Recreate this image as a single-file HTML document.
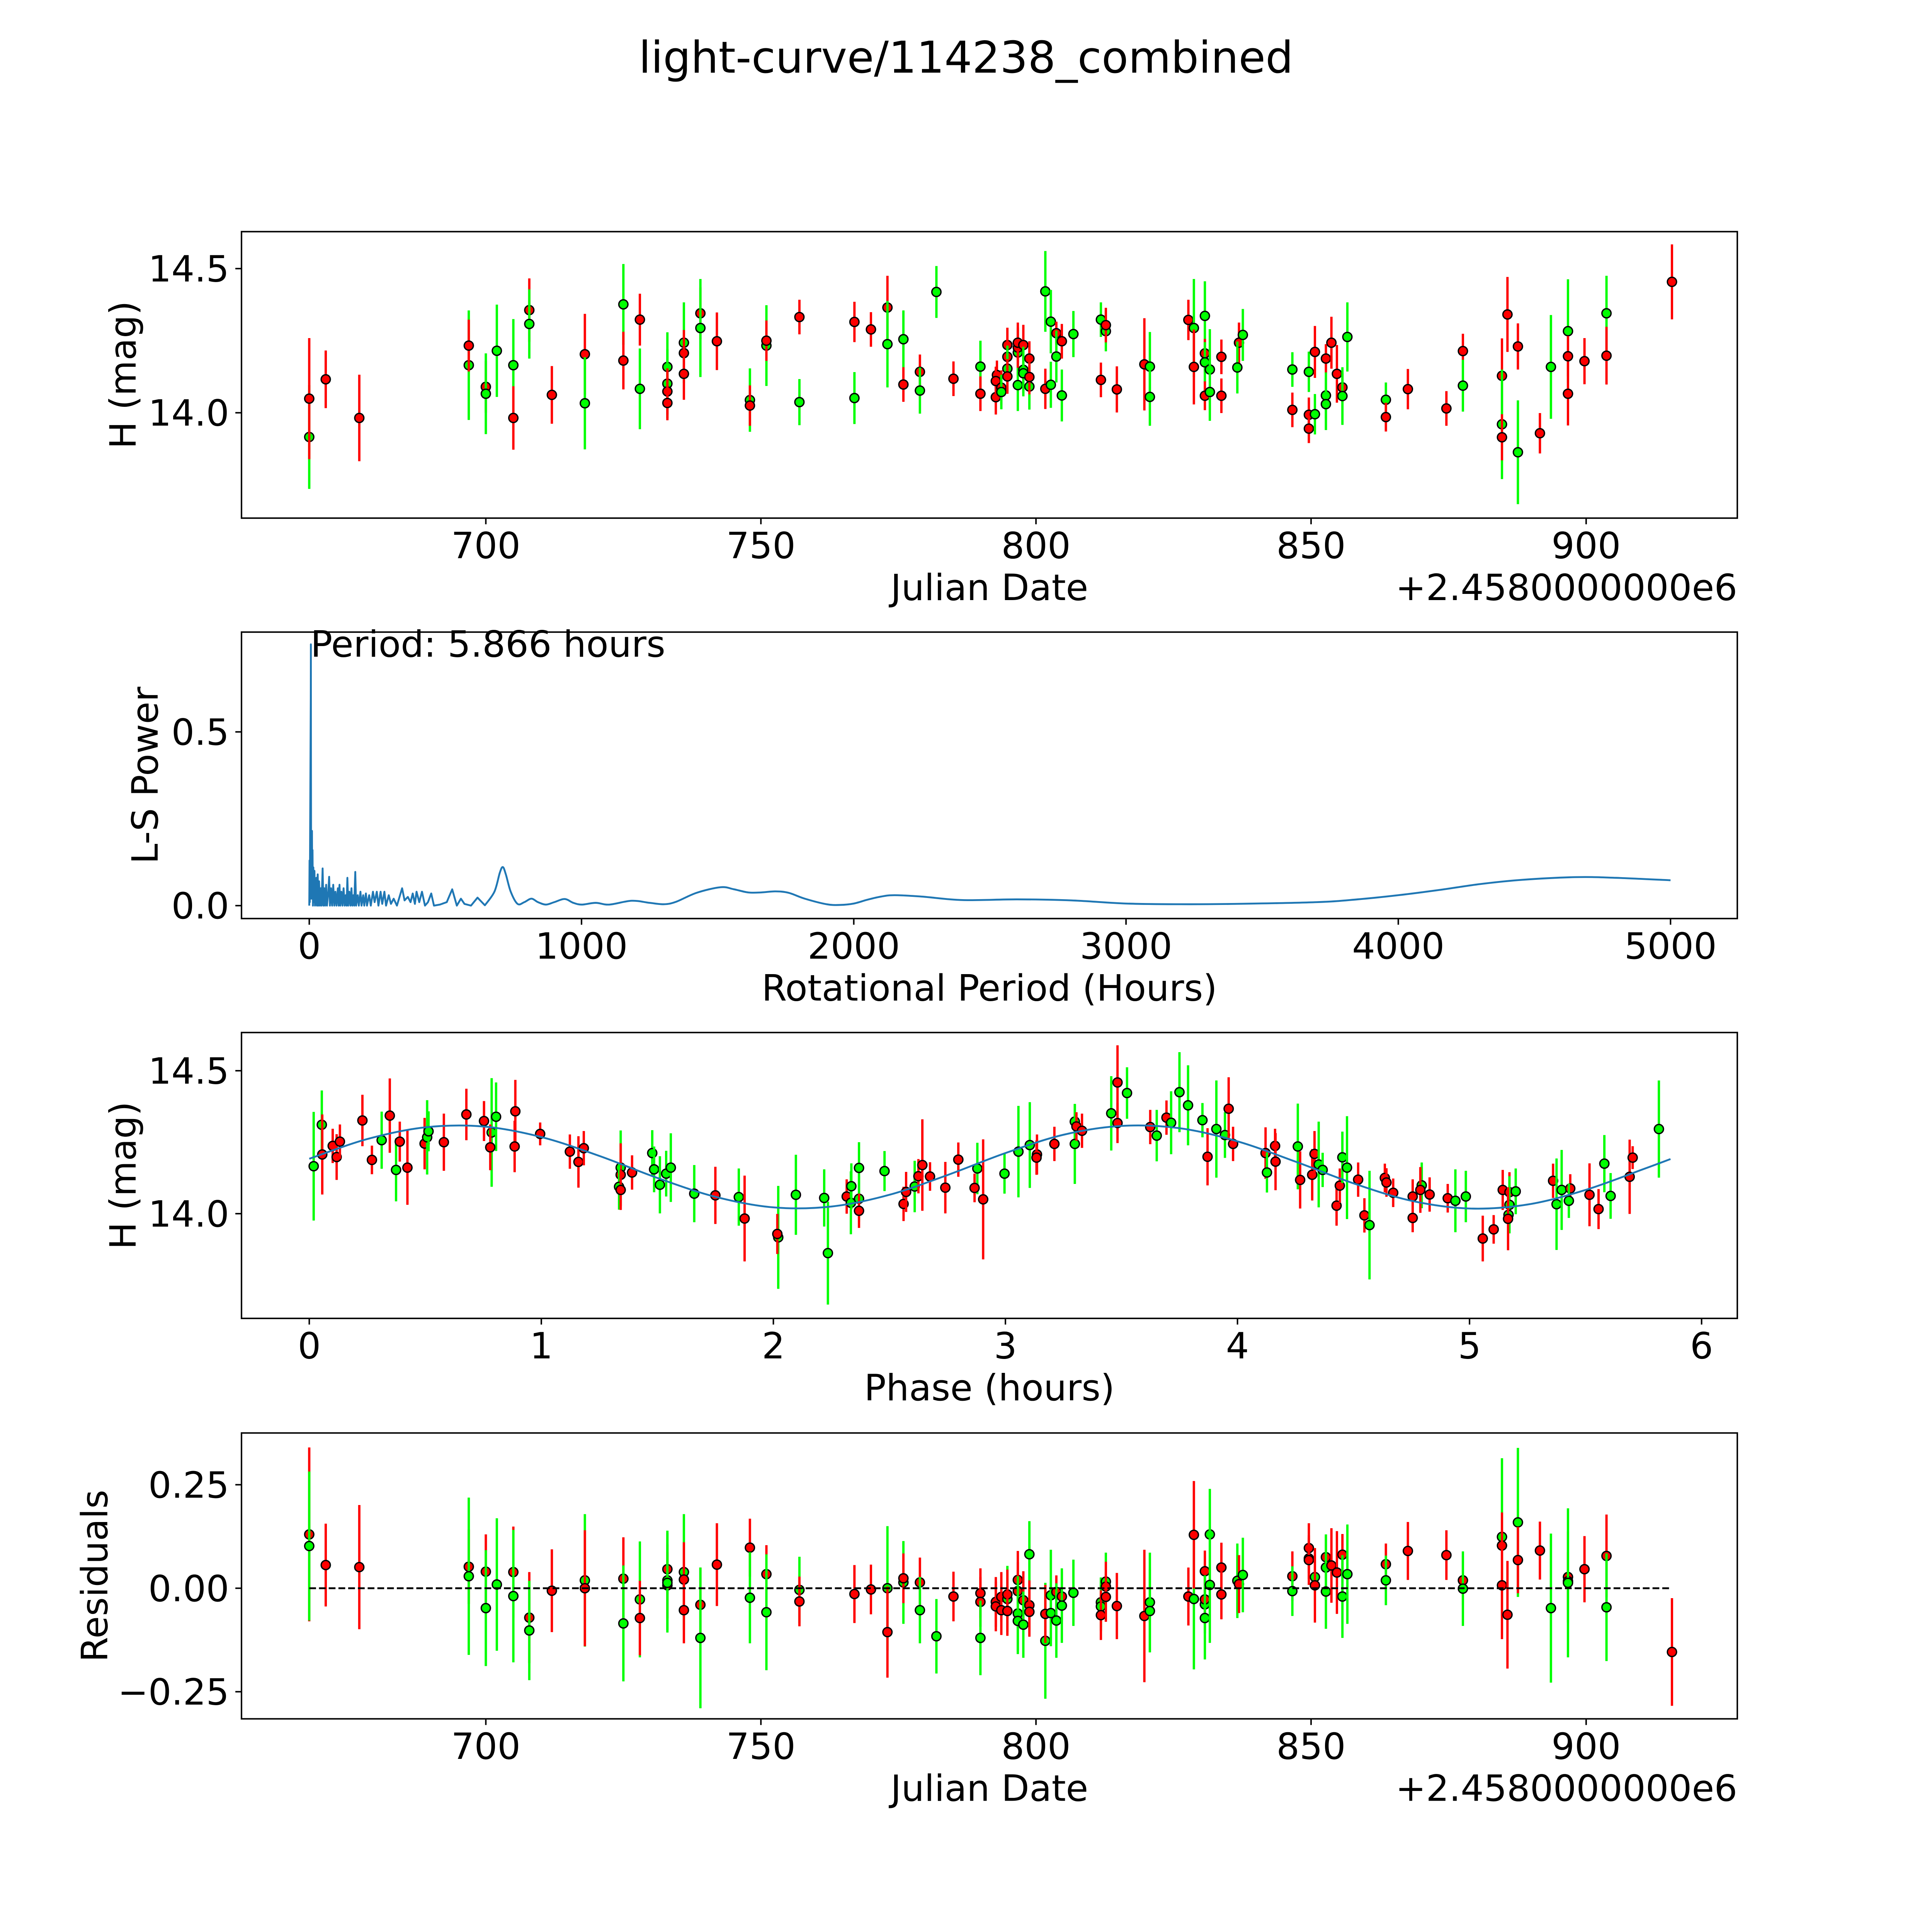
<!DOCTYPE html>
<html><head><meta charset="utf-8"><title>light-curve/114238_combined</title>
<style>html,body{margin:0;padding:0;background:#fff;overflow:hidden;width:100vw;height:100vh}svg{display:block;width:100vw;height:100vh}text{font-family:"DejaVu Sans","Liberation Sans",sans-serif;fill:#000}</style>
</head><body>
<svg id="fig" xmlns="http://www.w3.org/2000/svg" viewBox="0 0 1568 1568" preserveAspectRatio="xMidYMid meet">
<rect x="0" y="0" width="1568" height="1568" fill="#fff"/>
<text x="784" y="59" font-size="35.5" text-anchor="middle">light-curve/114238_combined</text>
<g id="g1"></g>
<g id="g2"></g>
<g id="g3"></g>
<g id="g4"></g>
</svg>
<script>
// ---------- Panel 1 data: raw light curve ----------
const p1Days = [667.9,667.9,670.9,677.0,696.9,696.9,700.0,700.0,702.0,705.0,705.0,707.9,707.9,712.0,718.0,718.0,725.0,725.0,728.0,728.0,733.0,733.0,733.0,733.0,736.0,736.0,736.0,739.0,739.0,742.0,748.0,748.0,751.0,751.0,757.0,757.0,767.0,767.0,770.0,773.0,773.0,775.9,775.9,778.9,778.9,781.9,785.0,789.9,789.9,
792.7,792.9,792.7,793.7,793.7,794.8,794.8,794.8,794.8,796.7,796.7,796.7,796.7,797.7,797.7,797.7,798.8,798.8,798.8,801.7,801.7,802.7,802.7,803.7,803.7,804.7,804.7,806.8,811.8,811.8,812.7,812.7,814.7,819.7,820.7,820.7,827.7,828.7,828.7,830.7,830.7,830.7,830.7,831.6,831.6,833.7,833.7,836.9,837.6,836.6,846.6,846.6,849.6,849.6,849.6,850.7,850.7,852.7,852.7,852.7,853.7,854.7,855.7,855.7,856.6,863.6,863.6,867.6,874.6,877.6,877.6,884.7,884.7,884.7,885.7,887.6,887.6,891.6,893.6,896.7,896.7,896.7,899.7,903.7,903.7,915.6];
const p1Mags = [13.916,14.049,14.116,13.982,14.165,14.233,14.090,14.066,14.215,14.165,13.982,14.356,14.308,14.062,14.203,14.033,14.376,14.181,14.323,14.083,14.159,14.101,14.074,14.034,14.243,14.207,14.135,14.345,14.294,14.248,14.044,14.025,14.233,14.250,14.332,14.037,14.315,14.051,14.289,14.365,14.238,14.255,14.098,14.142,14.077,14.419,14.118,14.160,14.066,
14.054,14.131,14.110,14.087,14.072,14.235,14.194,14.153,14.126,14.096,14.209,14.226,14.243,14.235,14.149,14.137,14.188,14.091,14.124,14.421,14.083,14.316,14.097,14.276,14.195,14.248,14.060,14.273,14.323,14.114,14.283,14.304,14.081,14.168,14.160,14.055,14.322,14.294,14.159,14.336,14.206,14.175,14.059,14.150,14.072,14.194,14.059,14.243,14.270,14.157,14.150,14.010,14.142,13.993,13.945,13.995,14.211,14.188,14.060,14.030,14.243,14.135,14.088,14.058,14.263,14.045,13.985,14.082,14.015,14.214,14.094,14.128,13.960,13.915,14.341,14.230,13.863,13.929,14.159,14.283,14.196,14.066,14.179,14.345,14.198,14.454];
const p1Errs = [.18,.21,.10,.15,.19,.09,.09,.14,.16,.16,.11,.11,.12,.10,.14,.16,.14,.10,.09,.14,.12,.12,.08,.06,.14,.08,.09,.09,.17,.10,.11,.07,.14,.07,.06,.08,.07,.09,.06,.11,.15,.10,.06,.06,.08,.09,.06,.09,.06,
.06,.05,.05,.06,.06,.06,.06,.08,.06,.09,.08,.07,.07,.07,.08,.08,.06,.08,.06,.14,.07,.11,.08,.04,.09,.06,.09,.08,.06,.06,.07,.06,.08,.16,.12,.10,.07,.17,.13,.12,.05,.07,.05,.14,.10,.06,.06,.07,.09,.09,.06,.06,.07,.06,.05,.07,.09,.05,.08,.09,.09,.10,.05,.10,.12,.06,.05,.07,.06,.06,.09,.13,.19,.08,.13,.08,.18,.07,.18,.18,.07,.11,.08,.13,.10,.13];
const p1Colors = "GRRRGRRGGGRRGRRGGRRGGGRRGRRRGRGRGRRGRGRRGGRRGGRGR" + "RRRRGRRGRGGRRRGGRGRGRGGRGRGGGRGRRRGGRGRGRGRGGRRRGGGRGRRGRRGGRRRGGGRRRRGRGRRRGRGGRRRGRR";

// ---------- Panel 2 data: Lomb-Scargle periodogram ----------
const lsPeriods = [0,1,2,4,5.5,5.866,6.2,7,8.5,10,11,12,13.5,15,17,19,21,23,26,28,31,33,36,39,42,45,49,52,55,58,62,65,70,73,76,80,84,88,92,96,100,105,108,111,114,118,122,126,130,134,137,140,143,147,151,155,158,162,165,169,172,178,182,188,192,198,202,208,212,220,226,234,240,248,254,262,268,276,282,292,300,310,322,341,350,362,372,380,388,394,404,414,425,436,448,458,480,505,525,542,557,570,594,618,645,680,700,711,722,740,765,790,816,840,869,900,938,970,1001,1052,1102,1184,1250,1303,1347,1423,1511,1560,1612,1660,1712,1760,1820,1900,1950,2000,2050,2100,2150,2250,2400,2600,2800,3000,3200,3400,3700,3850,4000,4150,4300,4450,4650,4800,5000];
const lsPower = [0,.13,.01,.35,.6,.752,.45,.02,.13,.215,.02,.16,0,.11,.01,.1,0,.06,.08,0,.09,0,.07,0,.05,0,.107,0,.05,0,.06,0,.04,.083,0,.05,0,.06,0,.04,0,.05,0,.06,0,.04,0,.05,0,.03,0,.08,0,.04,0,.05,0,.03,0,.097,0,.03,0,.04,0,.03,0,.035,0,.03,0,.04,.01,.04,0,.04,.005,.04,0,.03,.005,.02,0,.05,.015,.025,.01,.035,.005,.04,.01,.04,0,.01,.035,0,.003,.01,.047,0,.02,.005,0,.023,.001,.04,.095,.111,.09,.04,.005,.01,.02,.01,.003,.01,.019,.008,.003,.008,.003,.014,.008,.004,.011,.037,.053,.047,.038,.038,.041,.037,.02,.004,.002,.006,.017,.026,.03,.026,.016,.018,.015,.006,.004,.005,.01,.018,.03,.045,.062,.074,.082,.08,.073];
const bestPeriod = 5.866;

// ---------- Panel 3 data: phased light curve ----------
const p3Phase = [.019,.054,.056,.101,.118,.132,.229,.270,.312,.347,.374,.390,.423,.497,.508,.514,.580,.677,.753,.786,.805,.780,.888,.885,.995,1.123,1.160,1.183,1.342,1.342,1.335,1.342,1.391,1.478,1.486,1.511,1.538,1.558,1.659,1.750,1.851,1.876,2.021,2.017,2.097,2.219,2.235,2.316,2.334,2.336,2.369,2.369,2.369,2.479,2.561,2.572,2.609,2.625,2.642,2.675,2.741,2.797,2.879,2.867,2.904,
2.996,3.056,3.105,3.136,3.134,3.211,3.299,3.299,3.306,3.330,3.456,3.483,3.483,3.524,3.624,3.652,3.694,3.714,3.750,3.787,3.871,3.849,3.909,3.946,3.962,3.981,4.121,4.127,4.162,4.164,4.260,4.270,4.322,4.332,4.350,4.367,4.427,4.441,4.452,4.472,4.520,4.547,4.569,4.635,4.642,4.671,4.755,4.755,4.794,4.788,4.828,4.906,4.939,4.984,5.057,5.104,5.143,5.172,5.199,5.172,5.168,5.166,5.360,5.375,5.397,5.434,5.428,5.517,5.556,5.581,5.608,5.690,5.703,5.816];
const p3Mags = [14.166,14.311,14.207,14.237,14.198,14.252,14.326,14.188,14.257,14.343,14.153,14.252,14.161,14.245,14.267,14.288,14.250,14.347,14.324,14.284,14.339,14.232,14.358,14.235,14.279,14.217,14.181,14.229,14.161,14.136,14.094,14.083,14.144,14.212,14.155,14.101,14.140,14.161,14.070,14.064,14.058,13.983,13.917,13.929,14.066,14.055,13.862,14.060,14.038,14.096,14.160,14.052,14.010,14.149,14.034,14.076,14.095,14.131,14.170,14.130,14.091,14.189,14.158,14.090,14.050,
14.140,14.217,14.240,14.207,14.196,14.244,14.322,14.244,14.305,14.290,14.351,14.459,14.317,14.422,14.303,14.273,14.336,14.318,14.425,14.379,14.199,14.327,14.296,14.275,14.367,14.244,14.212,14.144,14.237,14.182,14.235,14.118,14.136,14.209,14.172,14.153,14.028,14.098,14.197,14.161,14.119,13.994,13.960,14.125,14.109,14.073,14.060,13.985,14.099,14.083,14.067,14.054,14.045,14.060,13.913,13.945,14.083,14.075,14.078,14.031,13.996,13.982,14.115,14.033,14.083,14.088,14.045,14.066,14.016,14.175,14.062,14.129,14.196,14.296];
const p3Errs = [.19,.12,.14,.06,.08,.06,.09,.05,.10,.13,.11,.07,.13,.09,.13,.07,.10,.09,.07,.19,.12,.08,.11,.09,.04,.06,.09,.06,.13,.11,.08,.07,.06,.08,.08,.10,.08,.12,.10,.10,.10,.15,.18,.07,.14,.10,.18,.06,.11,.08,.09,.08,.06,.07,.06,.07,.09,.06,.16,.05,.09,.06,.09,.05,.21,
.07,.16,.15,.07,.06,.06,.06,.14,.05,.06,.13,.13,.07,.09,.06,.09,.06,.11,.14,.14,.10,.06,.17,.08,.11,.06,.09,.07,.06,.10,.15,.10,.09,.08,.15,.06,.07,.06,.09,.18,.06,.06,.19,.05,.05,.05,.06,.05,.08,.08,.06,.05,.11,.09,.08,.05,.07,.07,.08,.10,.06,.11,.06,.16,.14,.05,.06,.11,.07,.10,.08,.13,.04,.17];
const p3Colors = "GGRRRRRRGRGRRRGGRRRGGRRRRRRRGRGRRGGGGGGRGRGRGGGRGGGGRGRRGRRRRRGRR" + "GGGRRRGGRRGRRGRGRGGGRGGGRRRGRRGRRRGGRRGGRRGRRRRRGRRRGGRRRRGGGRRGGRGRRGGRRG";
const fitPhase = [0,0.25,0.5,0.75,1,1.25,1.5,1.75,2,2.25,2.5,2.75,3,3.25,3.5,3.75,4,4.25,4.5,4.75,5,5.25,5.5,5.75,5.866];
const fitMag = [14.192,14.261,14.302,14.305,14.268,14.202,14.125,14.059,14.022,14.025,14.066,14.135,14.212,14.276,14.307,14.299,14.253,14.182,14.106,14.045,14.018,14.032,14.083,14.156,14.191];

// ---------- Panel 4 data: residuals ----------
const p4Days = [667.9,667.9,670.9,677.0,696.9,696.9,700.0,700.0,702.0,705.0,705.0,707.9,707.9,712.0,718.0,718.0,725.0,725.0,728.0,728.0,733.0,733.0,733.0,733.0,736.0,736.0,736.0,739.0,739.0,742.0,748.0,748.0,751.0,751.0,757.0,757.0,767.0,770.0,773.0,773.0,775.9,775.9,778.9,778.9,781.9,785.0,789.9,789.9,789.9,
792.7,792.7,793.7,793.7,794.8,794.8,794.8,796.7,796.7,796.7,796.7,797.7,797.7,798.8,798.8,798.8,801.7,801.7,802.7,802.7,803.7,803.7,804.7,804.7,806.8,811.8,811.8,811.8,812.7,812.7,812.7,814.7,819.7,820.7,820.7,827.7,828.7,828.7,831.6,830.7,830.7,830.7,830.7,831.6,833.7,833.7,836.6,836.9,837.6,846.6,846.6,849.6,849.6,849.6,850.7,850.7,852.7,852.7,852.7,853.7,854.7,855.7,855.7,856.6,863.6,863.6,867.6,874.6,877.6,877.6,884.7,884.7,884.7,885.7,887.6,887.6,891.6,893.6,896.7,896.7,896.7,899.7,903.7,903.7,915.6];
const p4Res = [.130,.102,.056,.051,.052,.029,.040,-.048,.009,.039,-.019,-.071,-.102,-.006,.019,.000,.023,-.085,-.027,-.072,.046,.019,.007,.013,.039,.021,-.053,-.040,-.120,.057,.098,-.023,.034,-.058,-.004,-.032,-.014,-.003,.000,-.106,.014,.024,.014,-.053,-.116,-.020,-.012,-.033,-.120,
-.033,-.044,-.021,-.053,-.026,-.015,-.055,.020,-.007,-.061,-.079,-.029,-.088,.082,-.041,-.057,-.127,-.062,-.017,-.060,-.009,-.078,-.020,-.042,-.011,-.034,-.044,-.065,.016,.004,-.021,-.043,-.067,-.034,-.055,-.020,-.026,.129,.130,.041,-.039,-.027,-.072,.008,.050,-.015,.018,.010,.032,.029,-.007,.097,.072,.068,.027,.007,.075,.050,-.008,.055,.038,.081,-.020,.034,.058,.019,.090,.080,.019,-.001,.124,.103,.007,-.064,.159,.068,.091,-.048,.027,.017,.013,.046,.078,-.046,-.154];
const p4Errs = [.21,.18,.10,.15,.09,.19,.09,.14,.16,.11,.16,.11,.12,.10,.16,.14,.10,.14,.14,.09,.06,.12,.08,.12,.14,.09,.08,.09,.17,.10,.07,.11,.07,.14,.08,.06,.07,.06,.15,.11,.10,.06,.06,.08,.09,.06,.06,.06,.09,
.06,.06,.06,.06,.08,.06,.06,.07,.07,.09,.08,.07,.08,.08,.06,.06,.14,.07,.11,.08,.04,.09,.06,.09,.08,.06,.06,.06,.07,.06,.06,.08,.16,.12,.10,.07,.17,.13,.11,.05,.07,.05,.10,.14,.06,.06,.09,.07,.09,.06,.06,.06,.05,.06,.07,.09,.05,.08,.09,.09,.10,.05,.10,.12,.05,.06,.07,.06,.06,.09,.19,.08,.13,.13,.18,.08,.07,.18,.11,.07,.18,.08,.10,.13,.13];
const p4Colors = "RGRRRGRGGRGRGRGRRGGRRGRGGRRRGRRGRGGRRRGRGRRGGRRRG" + "RRRRGRRRRGGRGGRRGRGGRGRGGGGRGRRRRGGRGRGRGRGGRRGRGRGRRRGRRGGRRRGGRGRRRGGRRRGRRGRRGRRGR";

// ---------- Tick labels ----------
const jdTicks = [700,750,800,850,900];
const magTicks = [14.0,14.5];
const magTickLabels = ["14.0","14.5"];
const lsXTicks = [0,1000,2000,3000,4000,5000];
const lsYTicks = [0.0,0.5];
const lsYTickLabels = ["0.0","0.5"];
const phaseTicks = [0,1,2,3,4,5,6];
const resTicks = [-0.25,0,0.25];
const resTickLabels = ["\u22120.25","0.00","0.25"];

const NS = "http://www.w3.org/2000/svg";
const COL = {R:"#ff0000", G:"#00ff00"};
const FS = 29.5;
function mk(parent, tag, attrs, text){
  const e = document.createElementNS(NS, tag);
  for (const k in attrs) e.setAttribute(k, attrs[k]);
  if (text !== undefined) e.textContent = text;
  parent.appendChild(e);
  return e;
}
function linear(d0,d1,r0,r1){ return v => r0 + (v-d0)*(r1-r0)/(d1-d0); }

const L = 196, R = 1410;
const P1 = {t:188, b:420.5}, P2 = {t:513, b:745.5}, P3 = {t:838, b:1070}, P4 = {t:1163, b:1395};

function frame(g, P, name){
  const r = mk(g, "rect", {x:L, y:P.t, width:R-L, height:P.b-P.t, fill:"none", stroke:"#000", "stroke-width":1.2});
  
  
}
function xTicks(g, P, ticks, sx, labels, name){
  ticks.forEach((t,i)=>{
    const x = sx(t);
    const ln = mk(g, "line", {x1:x, x2:x, y1:P.b, y2:P.b+5, stroke:"#000", "stroke-width":1.2});
    
    
    const tx = mk(g, "text", {x:x, y:P.b+32.5, "font-size":FS, "text-anchor":"middle"}, labels ? labels[i] : String(t));
    
    
  });
}
function yTicks(g, P, ticks, sy, labels, name){
  ticks.forEach((t,i)=>{
    const y = sy(t);
    const ln = mk(g, "line", {x1:L-5, x2:L, y1:y, y2:y, stroke:"#000", "stroke-width":1.2});
    
    
    const tx = mk(g, "text", {x:L-10, y:y+10.5, "font-size":FS, "text-anchor":"end"}, labels[i]);
    
    
  });
}
function xLabel(g, P, text, name){
  const t = mk(g, "text", {x:(L+R)/2, y:P.b+66.5, "font-size":FS, "text-anchor":"middle"}, text);
  
  
}
function yLabel(g, P, text, x, name){
  const cy = (P.t+P.b)/2;
  const t = mk(g, "text", {x:x, y:cy, "font-size":FS, "text-anchor":"middle", transform:`rotate(-90 ${x} ${cy})`}, text);
  
  
}
function offsetText(g, P){
  const t = mk(g, "text", {x:R, y:P.b+66.5, "font-size":FS, "text-anchor":"end"}, "+2.4580000000e6");
  
  
}
function errPoints(g, xs, ys, es, cols, sx, sy, name){
  for (let i=0;i<xs.length;i++){
    if (ys[i]===undefined) continue;
    const c = COL[cols[i]] || "#ff0000";
    const x = sx(xs[i]);
    const e = es[i] || 0.08;
    const bar = mk(g, "line", {x1:x, x2:x, y1:sy(ys[i]-e), y2:sy(ys[i]+e), stroke:c, "stroke-width":1.9});
    
    
    const pt = mk(g, "circle", {cx:x, cy:sy(ys[i]), r:3.7, fill:c, stroke:"#000", "stroke-width":1.1});
    
    
  }
}
function smoothPath(pts){
  let d = `M${pts[0][0]},${pts[0][1]}`;
  for (let i=0;i<pts.length-1;i++){
    const p0 = pts[Math.max(0,i-1)], p1 = pts[i], p2 = pts[i+1], p3 = pts[Math.min(pts.length-1,i+2)];
    const c1x = p1[0] + (p2[0]-p0[0])/6, c1y = p1[1] + (p2[1]-p0[1])/6;
    const c2x = p2[0] - (p3[0]-p1[0])/6, c2y = p2[1] - (p3[1]-p1[1])/6;
    d += ` C${c1x},${c1y} ${c2x},${c2y} ${p2[0]},${p2[1]}`;
  }
  return d;
}

// ---- Panel 1 ----
(function(){
  const g = document.getElementById("g1");
  const sx = linear(700, 900, 394.3, 1287.3);
  const sy = linear(14.0, 14.5, 335, 218);
  errPoints(g, p1Days, p1Mags, p1Errs, p1Colors, sx, sy, 'magnitude');
  frame(g, P1, 'raw-plot-frame');
  xTicks(g, P1, jdTicks, sx, null, 'julian-date-x');
  yTicks(g, P1, magTicks, sy, magTickLabels, 'magnitude-y');
  xLabel(g, P1, "Julian Date", 'x-axis-title');
  offsetText(g, P1);
  yLabel(g, P1, "H (mag)", 110, 'y-axis-title');
})();

// ---- Panel 2 ----
(function(){
  const g = document.getElementById("g2");
  const sx = linear(0, 5000, 251, 1355.8);
  const sy = linear(0, 0.5, 735, 594);
  const lowPts = [], highPts = [];
  lsPeriods.forEach((p,i)=>{ (p < 650 ? lowPts : highPts).push([sx(p), sy(lsPower[i])]); });
  let d = "";
  lowPts.forEach((pt,i)=>{ d += (i?"L":"M") + pt[0].toFixed(2) + "," + pt[1].toFixed(2); });
  const hp = [lowPts[lowPts.length-1]].concat(highPts);
  d += smoothPath(hp).replace(/^M[^C]*/, "");
  const path = mk(g, "path", {d:d, fill:"none", stroke:"#1f77b4", "stroke-width":1.5, "stroke-linejoin":"round"});
  
  
  frame(g, P2, 'periodogram-frame');
  xTicks(g, P2, lsXTicks, sx, null, 'period-x');
  yTicks(g, P2, lsYTicks, sy, lsYTickLabels, 'power-y');
  xLabel(g, P2, "Rotational Period (Hours)", 'periodogram-x-axis-title');
  yLabel(g, P2, "L-S Power", 128, 'periodogram-y-axis-title');
  const ann = mk(g, "text", {x:252, y:533, "font-size":FS}, "Period: " + bestPeriod.toFixed(3) + " hours");
  
  
})();

// ---- Panel 3 ----
(function(){
  const g = document.getElementById("g3");
  const sx = linear(0, 6, 251, 1381);
  const sy = linear(14.0, 14.5, 985, 869);
  errPoints(g, p3Phase, p3Mags, p3Errs, p3Colors, sx, sy, 'phased');
  const pts = fitPhase.map((p,i)=>[sx(p), sy(fitMag[i])]);
  const fit = mk(g, "path", {d:smoothPath(pts), fill:"none", stroke:"#1f77b4", "stroke-width":1.5});
  
  
  frame(g, P3, 'phased-plot-frame');
  xTicks(g, P3, phaseTicks, sx, null, 'phase-x');
  yTicks(g, P3, magTicks, sy, magTickLabels, 'phased-magnitude-y');
  xLabel(g, P3, "Phase (hours)", 'phase-x-axis-title');
  yLabel(g, P3, "H (mag)", 110, 'phased-y-axis-title');
})();

// ---- Panel 4 ----
(function(){
  const g = document.getElementById("g4");
  const sx = linear(700, 900, 394.3, 1287.3);
  const sy = linear(0, 0.25, 1289, 1205);
  errPoints(g, p4Days, p4Res, p4Errs, p4Colors, sx, sy, 'residual');
  const zl = mk(g, "line", {x1:sx(p1Days[0]), x2:sx(p1Days[p1Days.length-1]), y1:sy(0), y2:sy(0), stroke:"#000", "stroke-width":1.5, "stroke-dasharray":"5.5,2.4"});
  
  
  frame(g, P4, 'residuals-frame');
  xTicks(g, P4, jdTicks, sx, null, 'residual-julian-date-x');
  yTicks(g, P4, resTicks, sy, resTickLabels, 'residual-y');
  xLabel(g, P4, "Julian Date", 'residual-x-axis-title');
  offsetText(g, P4);
  yLabel(g, P4, "Residuals", 87, 'residual-y-axis-title');
})();
</script>
</body></html>
